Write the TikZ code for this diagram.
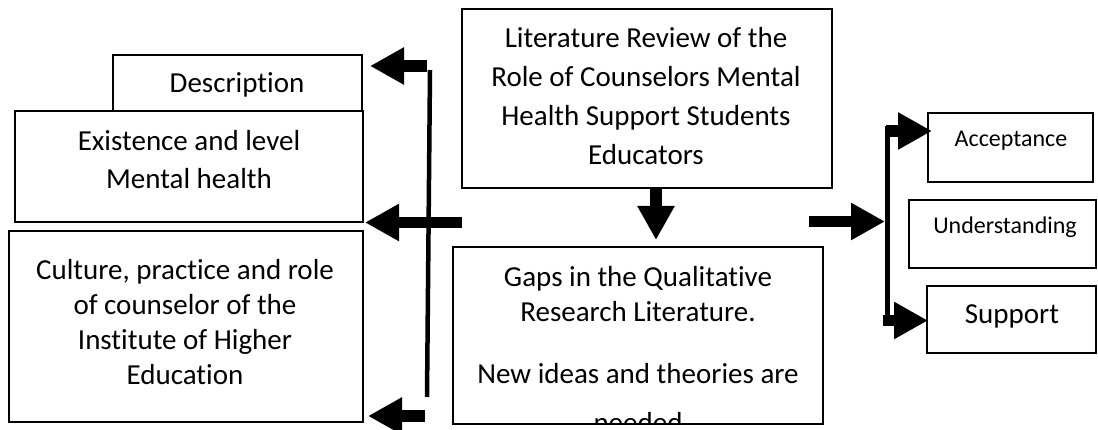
\documentclass[tikz,border=0pt]{standalone}
\usepackage{fontspec}
\setmainfont{Carlito}[Ligatures=NoCommon]
\usetikzlibrary{arrows.meta}
\newcommand{\mytab}[2]{\fontsize{29}{#1}\selectfont\begin{tabular}[t]{@{}c@{}}#2\end{tabular}}
\begin{document}
\begin{tikzpicture}[x=1pt,y=-1pt,
  box/.style={draw, line width=1.6pt, inner sep=0pt, outer sep=0pt},
  txt/.style={anchor=base, inner sep=0pt},
  fat/.style={line width=11.5pt, -{Triangle[length=34pt,width=35pt]}},
  bar/.style={line width=4.5pt}]
\useasboundingbox (0,0) rectangle (1098,430);
% boxes
\node[box, minimum width=249, minimum height=56] (desc) at (237.5,83) {};
\node[box, minimum width=348, minimum height=111] (exist) at (189,166.5) {};
\node[box, minimum width=354, minimum height=191] (cult) at (186,326.5) {};
\node[box, minimum width=370, minimum height=179] (lit) at (647,98.5) {};
\node[box, minimum width=370, minimum height=177] (gaps) at (638,335.5) {};
\node[box, minimum width=165, minimum height=69] (acc) at (1010.5,147.5) {};
\node[box, minimum width=187, minimum height=68] (und) at (1002.5,234) {};
\node[box, minimum width=169, minimum height=67] (sup) at (1011.5,319.5) {};
% texts
\node[txt] (desct) at (237,93) {\mytab{35}{Description}};
\node[txt] (existt) at (189,151) {\mytab{38}{Existence and level\\Mental health}};
\node[txt] (cultt) at (185,280) {\mytab{35}{Culture, practice and role\\of counselor of the\\Institute of Higher\\Education}};
\node[txt] (litt) at (646,48) {\mytab{39}{Literature Review of the\\Role of Counselors Mental\\Health Support Students\\Educators}};
\node[txt] (gapst) at (638,287) {\mytab{35}{Gaps in the Qualitative\\Research Literature.}};
\begin{scope}
\clip (gaps.north west) rectangle (gaps.south east);
\node[txt] (gapsn) at (638,383) {\mytab{50}{New ideas and theories are\\needed}};
\end{scope}
\node[txt] (acct) at (1011,147) {\fontsize{24}{29}\selectfont Acceptance};
\node[txt] (undt) at (1005,234) {\fontsize{24}{29}\selectfont Understanding};
\node[txt] (supt) at (1012,324) {\fontsize{29}{35}\selectfont Support};
% left connectors
\coordinate (lbarT) at (430,70);
\coordinate (lbarB) at (427,397);
\draw[bar] (lbarT) -- (lbarB);
\coordinate (aA) at (427,66);
\coordinate (aAt) at (370,66);
\draw[fat] (aA) -- (aAt);
\coordinate (aB) at (462,222.5);
\coordinate (aBt) at (365,222.5);
\draw[fat] (aB) -- (aBt);
\coordinate (aC) at (425,416);
\coordinate (aCt) at (368,416);
\draw[fat] (aC) -- (aCt);
% down arrow
\coordinate (dA) at (656,188);
\coordinate (dAt) at (656,240);
\draw[fat] (dA) -- (dAt);
% right connectors
\coordinate (rbarT) at (887.5,126);
\coordinate (rbarB) at (887.5,325);
\draw[bar] (rbarT) -- (rbarB);
\coordinate (rA) at (809,221.5);
\coordinate (rAt) at (885,221.5);
\draw[fat] (rA) -- (rAt);
\coordinate (rB) at (886,131);
\coordinate (rBt) at (932,131);
\draw[fat] (rB) -- (rBt);
\coordinate (rC) at (883,320.5);
\coordinate (rCt) at (928,320.5);
\draw[fat] (rC) -- (rCt);
\end{tikzpicture}
\end{document}
